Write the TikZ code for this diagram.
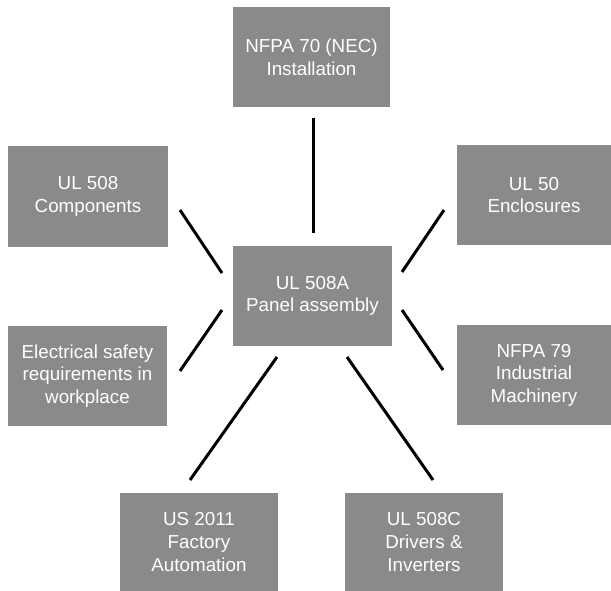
\documentclass[tikz,border=0pt]{standalone}
\usepackage{fontspec}
\setmainfont{Liberation Sans}
\usetikzlibrary{calc,%
		positioning}
\definecolor{boxgray}{RGB}{138,138,138}

\begin{document}
\begin{tikzpicture}[x=1pt,y=-1pt,
	norma/.style={fill=boxgray, text=white, align=center, inner sep=0pt,
		minimum width=158pt, minimum height=100pt,
		font=\fontsize{18.8}{22.6}\selectfont},
	collega/.style={line width=3pt}]
%Norme attorno al quadro UL 508A
\useasboundingbox (0,0) rectangle (611,591);
\node[norma, minimum width=157pt] (nec) at (311.5,57) {NFPA 70 (NEC)\\Installation};
\node[norma, minimum width=160pt, minimum height=101pt] (comp) at (88,196.5) {UL 508\\Components};
\node[norma, minimum width=154pt] (encl) at (534,195) {UL 50\\Enclosures};
\node[norma, minimum width=159pt] (panel) at (312.5,296) {UL 508A\\Panel assembly};
\node[norma, minimum width=159pt] (safety) at (87.5,376) {Electrical safety\\requirements in\\workplace};
\node[norma, minimum width=154pt] (machinery) at (534,375) {NFPA 79\\Industrial\\Machinery};
\node[norma, minimum height=98pt] (factory) at (199,542) {US 2011\\Factory\\Automation};
\node[norma, minimum height=98pt] (drivers) at (424,542) {UL 508C\\Drivers \&\\Inverters};
\coordinate (necA) at (313,118);
\coordinate (necB) at (313,233);
\coordinate (compA) at (180,210);
\coordinate (compB) at (222,273);
\coordinate (enclA) at (444,210);
\coordinate (enclB) at (402,272);
\coordinate (safetyA) at (180,371);
\coordinate (safetyB) at (222,310);
\coordinate (machineryA) at (443,370);
\coordinate (machineryB) at (402,310);
\coordinate (factoryA) at (190,480);
\coordinate (factoryB) at (277,357);
\coordinate (driversA) at (433,480);
\coordinate (driversB) at (347,357);
\foreach \n in {nec,comp,encl,safety,machinery,factory,drivers}
	\draw[collega] (\n A) -- (\n B);
\end{tikzpicture}
\end{document}
